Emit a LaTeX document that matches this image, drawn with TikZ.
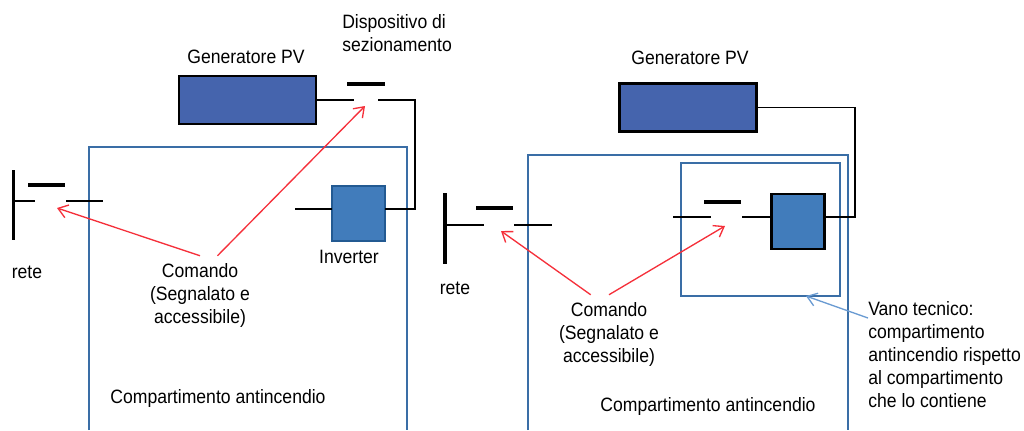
\documentclass[tikz,border=0pt]{standalone}
\usepackage{fontspec}
\setmainfont[FakeStretch=0.91]{Liberation Sans}
\usepackage{xcolor}
\usetikzlibrary{arrows.meta, positioning}
\definecolor{genblue}{HTML}{4564AD}
\definecolor{invblue}{HTML}{417CBB}
\definecolor{invedge}{HTML}{235A92}
\definecolor{roomblue}{HTML}{3A6EA6}
\definecolor{linkblue}{HTML}{6A9BD2}
\definecolor{cmdred}{HTML}{F5303A}
\tikzset{
    textlabel/.style={inner sep=0pt, align=center, font=\fontsize{14.5}{17.25}\selectfont},
    notelabel/.style={textlabel, align=left},
    genbox/.style={draw=black, fill=genblue, line width=1.8pt, outer sep=0pt, minimum width=102.75pt, minimum height=36pt, inner sep=0pt},
    invbox/.style={draw=invedge, fill=invblue, line width=1.8pt, outer sep=0pt, minimum width=39.75pt, minimum height=41.25pt, inner sep=0pt},
    roombox/.style={draw=roomblue, line width=1.7pt},
    wire/.style={draw=black, line width=1.2pt},
    thickbar/.style={draw=black, line width=2.8pt},
    cmdarrow/.style={draw=cmdred, line width=1pt, -{Straight Barb[length=7pt, width=10pt]}},
    linkarrow/.style={draw=linkblue, line width=1pt, -{Straight Barb[length=7pt, width=10pt]}}
}
\begin{document}
\begin{tikzpicture}[x=0.75pt, y=-0.75pt]
    \useasboundingbox (0,0) rectangle (1024,430);

    % left side
    \draw[roombox] (89,430) -- (89,147) -- (407,147) -- (407,430);
    \node[genbox] (genL) at (247.5,100) {};
    \node[invbox] (invL) at (358.5,213.5) {};
    \coordinate (wireL) at (0,209);
    \coordinate (invLin) at (295,209);
    \coordinate (swLa) at (354,100);
    \coordinate (swLb) at (378,100);
    \coordinate (cornerLa) at (415,100);
    \coordinate (cornerLb) at (415,209);
    \coordinate (barLa) at (347,84);
    \coordinate (barLb) at (385,84);
    \coordinate (busLa) at (13.5,170);
    \coordinate (busLb) at (13.5,240);
    \coordinate (reteLa) at (13.5,201);
    \coordinate (reteLb) at (35,201);
    \coordinate (reteLc) at (66,201);
    \coordinate (reteLd) at (103,201);
    \coordinate (barRLa) at (28,185);
    \coordinate (barRLb) at (65,185);
    \coordinate (tipLa) at (57,208);
    \coordinate (tipLb) at (365,106);

    \node[textlabel] (titleGenL) at (246,57) {Generatore PV};
    \node[notelabel, anchor=west] (titleSw) at (342,33.5) {Dispositivo di\\sezionamento};
    \node[textlabel] (titleInv) at (349,257) {Inverter};
    \node[textlabel] (titleReteL) at (27,272) {rete};
    \node[textlabel, minimum height=58.5pt] (cmdL) at (200,295) {Comando\\(Segnalato e\\accessibile)};
    \node[textlabel] (titleRoomL) at (218,398) {Compartimento antincendio};

    \draw[wire] (genL.east) -- (swLa);
    \draw[wire] (swLb) -- (cornerLa) -- (cornerLb) -- (invL.east |- wireL);
    \draw[wire] (invLin) -- (invL.west |- wireL);
    \draw[thickbar] (barLa) -- (barLb);
    \draw[thickbar] (busLa) -- (busLb);
    \draw[wire] (reteLa) -- (reteLb);
    \draw[wire] (reteLc) -- (reteLd);
    \draw[thickbar] (barRLa) -- (barRLb);
    \draw[cmdarrow] (cmdL.north) -- (tipLa);
    \draw[cmdarrow] (cmdL.66) -- (tipLb);

    % right side
    \draw[roombox] (528,430) -- (528,155) -- (848,155) -- (848,430);
    \node[roombox, outer sep=0pt, inner sep=0pt, minimum width=119.25pt, minimum height=99.75pt] (vano) at (760.5,229.5) {};
    \node[genbox] (genR) at (688,107.5) {};
    \node[invbox, draw=black] (invR) at (798,221.5) {};
    \coordinate (wireR) at (0,217);
    \coordinate (invRin) at (742,217);
    \coordinate (swRa) at (673,217);
    \coordinate (swRb) at (711,217);
    \coordinate (cornerRa) at (855,107.5);
    \coordinate (cornerRb) at (855,217);
    \coordinate (barRa) at (704,202);
    \coordinate (barRb) at (741,202);
    \coordinate (busRa) at (445,193);
    \coordinate (busRb) at (445,264);
    \coordinate (reteRa) at (445,225);
    \coordinate (reteRb) at (484,225);
    \coordinate (reteRc) at (514,225);
    \coordinate (reteRd) at (552,225);
    \coordinate (barSa) at (476,208);
    \coordinate (barSb) at (513,208);
    \coordinate (tipRa) at (501,231);
    \coordinate (tipRb) at (725,226);
    \coordinate (tipVano) at (806,296);

    \node[textlabel] (titleGenR) at (690,58) {Generatore PV};
    \node[textlabel] (titleReteR) at (455,288) {rete};
    \node[textlabel, minimum height=58.5pt] (cmdR) at (609,334) {Comando\\(Segnalato e\\accessibile)};
    \node[textlabel] (titleRoomR) at (708,406) {Compartimento antincendio};
    \node[notelabel, anchor=west] (noteVano) at (868,355) {Vano tecnico:\\compartimento\\antincendio rispetto\\al compartimento\\che lo contiene};

    \draw[wire] (genR.east) -- (cornerRa) -- (cornerRb) -- (invR.east |- wireR);
    \draw[wire] (invRin) -- (invR.west |- wireR);
    \draw[wire] (swRa) -- (swRb);
    \draw[thickbar] (barRa) -- (barRb);
    \draw[thickbar] (busRa) -- (busRb);
    \draw[wire] (reteRa) -- (reteRb);
    \draw[wire] (reteRc) -- (reteRd);
    \draw[thickbar] (barSa) -- (barSb);
    \draw[cmdarrow] (cmdR.115) -- (tipRa);
    \draw[cmdarrow] (cmdR.north) -- (tipRb);
    \draw[linkarrow] (noteVano.west |- 0,318) -- (tipVano);
\end{tikzpicture}
\end{document}
